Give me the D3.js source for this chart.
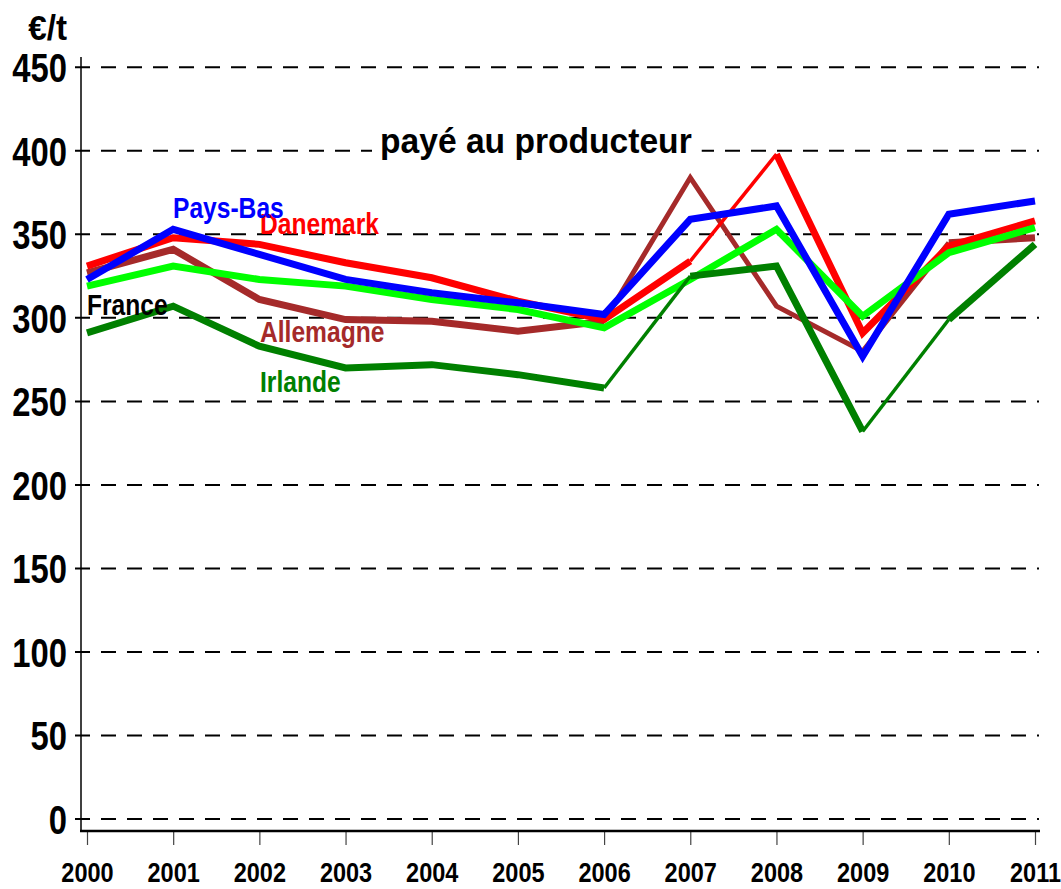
<!DOCTYPE html>
<html><head><meta charset="utf-8">
<script src="https://d3js.org/d3.v7.min.js"></script>
<style>body{margin:0;background:#fff}svg{display:block}</style>
</head><body>
<svg id="c" width="1061" height="889"></svg>
<script>
const years = [2000,2001,2002,2003,2004,2005,2006,2007,2008,2009,2010,2011];
const yTicks = [0,50,100,150,200,250,300,350,400,450];
const danemark  = [331,348,344,333,324,310,299,334,398,291,343,358];
const paysBas   = [323,353,338,323,315,309,302,359,367,277,362,370];
const allemagne = [327,341,311,299,298,292,298,384,307,280,345,348];
const france    = [319,331,323,319,311,305,294,323,353,301,339,354];
const irlande   = [291,307,283,270,272,266,258,325,331,232,299,344];
const seriesNames = ["Allemagne","Danemark","France","Pays-Bas","Irlande"];
const seriesValues = [allemagne, danemark, france, paysBas, irlande];
const unitLabel = "€/t";
const title = "payé au producteur";

const FONT = "'Liberation Sans Narrow','Arial Narrow','Liberation Sans',Arial,sans-serif";
const colors = {"Allemagne":"#a52a2a","Danemark":"#ff0000","France":"#00ff00","Pays-Bas":"#0000ff","Irlande":"#008000"};
const labelColors = {"Allemagne":"#a52a2a","Danemark":"#ff0000","France":"#000000","Pays-Bas":"#0000ff","Irlande":"#008000"};
const thick = 7, thin = 3.5;
const segWidth = {
  "Allemagne": i => (i>=6 && i<=9) ? 5 : thick,
  "Danemark": i => i===7 ? thin : thick,
  "France": i => thick,
  "Pays-Bas": i => thick,
  "Irlande": i => (i===6 || i===9) ? thin : thick
};
const labelPos = {"Pays-Bas":[173,218],"Danemark":[260,234],"France":[87,315],"Allemagne":[260,342],"Irlande":[260,392]};

const svg = d3.select("#c");
const x = d3.scaleLinear().domain([2000,2011]).range([87,1035]);
const y = d3.scaleLinear().domain([0,450]).range([819,67.3]);

// helper: horizontally condensed text anchored at (px,py)
function ctext(parent, px, py, str, size, sx, anchor, fill){
  const g = parent.append("g").attr("transform",`translate(${px},${py}) scale(${sx},1)`);
  return g.append("text").attr("x",0).attr("y",0).attr("text-anchor",anchor||"start")
    .attr("font-family",FONT).attr("font-weight","bold").attr("font-size",size)
    .attr("fill",fill||"#000").text(str);
}

// gridlines
svg.append("g").selectAll("line").data(yTicks).join("line")
  .attr("x1",75).attr("x2",1039)
  .attr("y1",d=>y(d)).attr("y2",d=>y(d))
  .attr("stroke","#000").attr("stroke-width",2)
  .attr("stroke-dasharray","15,11");

// y axis line
svg.append("line").attr("x1",81).attr("x2",81).attr("y1",57).attr("y2",831)
  .attr("stroke","#000").attr("stroke-width",1.5);

// x axis
const xAxis = d3.axisBottom(x).tickValues(years).tickFormat(d3.format("d")).tickSize(14).tickPadding(17);
const gx = svg.append("g").attr("transform","translate(0,831)").call(xAxis);
gx.select(".domain").remove();
gx.selectAll(".tick line").attr("stroke","#444").attr("stroke-width",1.2);
gx.selectAll(".tick text").attr("font-family",FONT).attr("font-weight","bold")
  .attr("font-size",28).attr("fill","#000").attr("transform","scale(0.84,1)");
svg.append("line").attr("x1",80).attr("x2",1040).attr("y1",831).attr("y2",831)
  .attr("stroke","#000").attr("stroke-width",2.5);

// y tick labels
const yAxis = d3.axisLeft(y).tickValues(yTicks).tickSize(0).tickPadding(0).tickFormat(d3.format("d"));
const gy = svg.append("g").attr("transform","translate(67,0)").call(yAxis);
gy.select(".domain").remove();
gy.selectAll(".tick text").attr("font-family",FONT).attr("font-weight","bold")
  .attr("font-size",40).attr("fill","#000").attr("dy","0.36em").attr("transform","scale(0.82,1)");

ctext(svg, 67, 40, unitLabel, 35, 0.95, "end");

// lines
const line = d3.line().x(d=>x(d[0])).y(d=>y(d[1]));
seriesNames.forEach((name,si)=>{
  const vals = seriesValues[si];
  const pts = years.map((yr,i)=>[yr,vals[i]]);
  let runs = [], cur = null;
  for(let i=0;i<pts.length-1;i++){
    const w = segWidth[name](i);
    if(cur && cur.w===w){ cur.pts.push(pts[i+1]); }
    else { cur = {w, pts:[pts[i],pts[i+1]]}; runs.push(cur); }
  }
  const g = svg.append("g");
  g.selectAll("path").data(runs).join("path")
    .attr("d",r=>line(r.pts)).attr("fill","none")
    .attr("stroke",colors[name]).attr("stroke-width",r=>r.w)
    .attr("stroke-linejoin","miter").attr("stroke-miterlimit",10);
});

// series labels
seriesNames.forEach(name=>{
  const p = labelPos[name];
  ctext(svg, p[0], p[1], name, 30, 0.82, "start", labelColors[name]);
});

// title with white background
const bgRect = svg.append("rect").attr("fill","#fff");
const t = ctext(svg, 380, 153, title, 35, 0.96, "start", "#000");
const w = t.node().getComputedTextLength()*0.96;
bgRect.attr("x",372).attr("y",135).attr("width",w+18).attr("height",22);
</script>
</body></html>
